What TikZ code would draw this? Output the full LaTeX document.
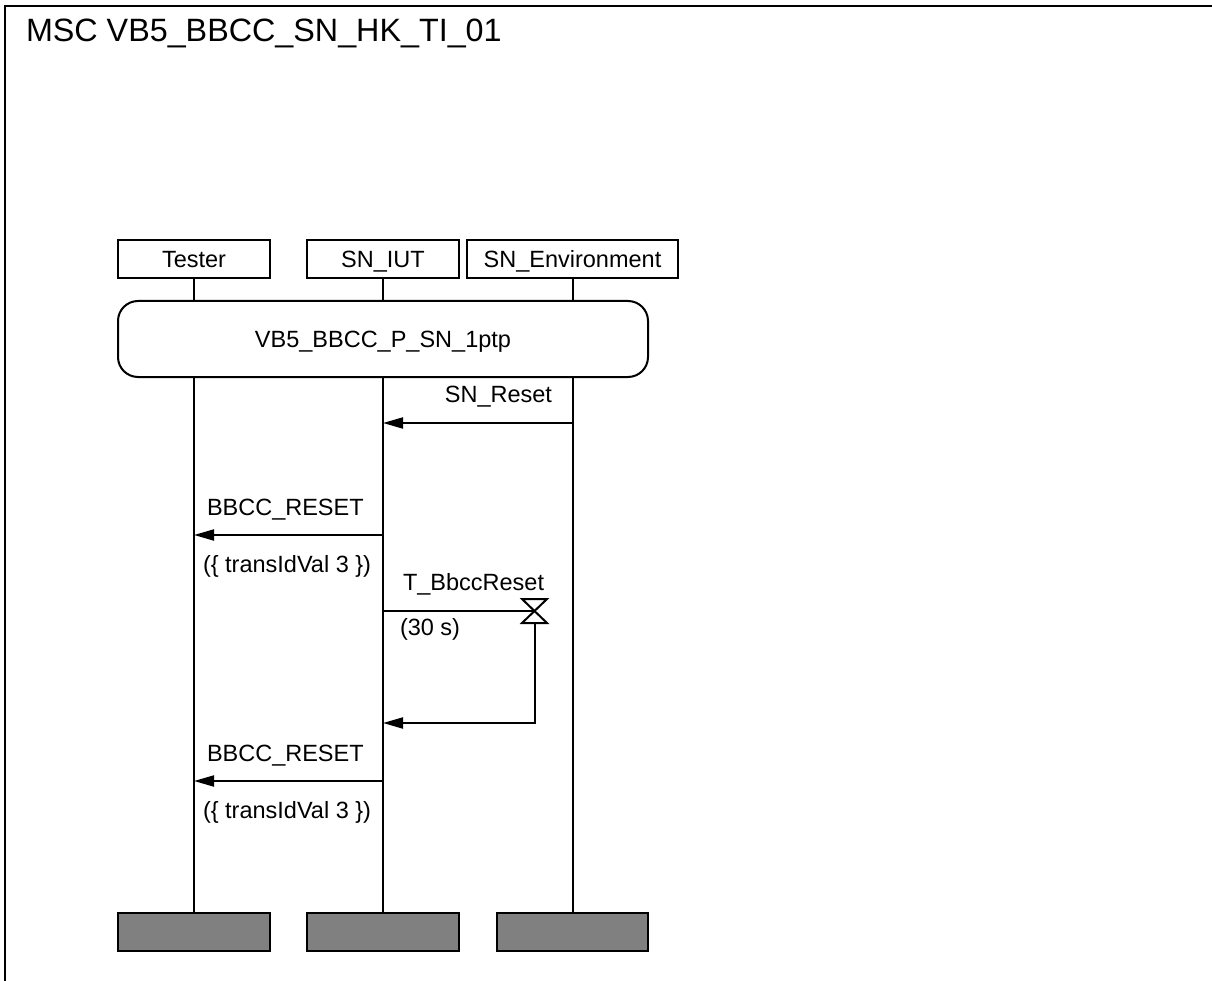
\documentclass[tikz,border=0pt]{standalone}
\usepackage{fontspec}
\setmainfont{Liberation Sans}
\usetikzlibrary{arrows.meta}
\definecolor{endgray}{HTML}{808080}
\begin{document}
\begin{tikzpicture}[x=1pt,y=-1pt,line width=2pt,
  lbl/.style={font=\fontsize{23.5}{28}\selectfont,inner sep=0pt},
  hdr/.style={draw,minimum height=38pt,inner sep=0pt,text height=17pt,text depth=0pt,font=\fontsize{23.5}{28}\selectfont},
  endbox/.style={draw,fill=endgray,minimum height=38pt,inner sep=0pt},
  msg/.style={-{Triangle[length=20pt,width=11pt]}}]
\useasboundingbox (0,0) rectangle (1212,981);
% frame
\draw (1214,6) -- (5,6) -- (5,983);
\node[anchor=base west,inner sep=0pt,font=\fontsize{32.3}{38}\selectfont] (title) at (25,42) {MSC VB5\_BBCC\_SN\_HK\_TI\_01};
% instance heads
\node[hdr,minimum width=152pt] (tH) at (194,259) {Tester};
\node[hdr,minimum width=152pt] (iH) at (383,259) {SN\_IUT};
\node[hdr,minimum width=211pt] (eH) at (572.5,259) {SN\_Environment};
% reference
\node[draw,rounded corners=20pt,minimum width=530pt,minimum height=76pt,inner sep=0pt,text height=17pt,text depth=0pt,font=\fontsize{23.5}{28}\selectfont] (ref) at (383,339) {VB5\_BBCC\_P\_SN\_1ptp};
% instance ends
\node[endbox,minimum width=152pt] (tE) at (194,932) {};
\node[endbox,minimum width=152pt] (iE) at (383,932) {};
\node[endbox,minimum width=151pt] (eE) at (572.5,932) {};
% lifelines
\draw (tH.south) -- (tH.south |- ref.north);
\draw (iH.south) -- (iH.south |- ref.north);
\draw (eH.south) -- (eH.south |- ref.north);
\draw (tE.north |- ref.south) -- (tE.north);
\draw (iE.north |- ref.south) -- (iE.north);
\draw (eE.north |- ref.south) -- (eE.north);
% SN_Reset
\coordinate (m1s) at (572.5,423);
\coordinate (m1e) at (383,423);
\draw[msg] (m1s) -- (m1e);
\node[lbl,anchor=base east] (m1l) at (553,402) {SN\_Reset};
% BBCC_RESET 1
\coordinate (m2s) at (383,535);
\coordinate (m2e) at (194,535);
\draw[msg] (m2s) -- (m2e);
\node[lbl,anchor=base west] (m2l) at (206,515) {BBCC\_RESET};
\node[lbl,anchor=base west] (m2p) at (202,572) {(\{ transIdVal 3 \})};
% timer
\coordinate (tms) at (383,611);
\coordinate (tm) at (534.5,611);
\draw (tms) -- (tm);
\draw[line join=miter] (tm) ++(-12.5,-12) -- ++(25,0) -- ++(-25,24) -- ++(25,0) -- cycle;
\node[lbl,anchor=base west] (tml) at (402,590) {T\_BbccReset};
\node[lbl,anchor=base west] (tmd) at (399,635) {(30 s)};
\coordinate (tmb) at (534.5,623);
\coordinate (to) at (534.5,723);
\coordinate (toe) at (383,723);
\draw[msg] (tmb) -- (to) -- (toe);
% BBCC_RESET 2
\coordinate (m3s) at (383,781);
\coordinate (m3e) at (194,781);
\draw[msg] (m3s) -- (m3e);
\node[lbl,anchor=base west] (m3l) at (206,761) {BBCC\_RESET};
\node[lbl,anchor=base west] (m3p) at (202,818) {(\{ transIdVal 3 \})};
\end{tikzpicture}
\end{document}
